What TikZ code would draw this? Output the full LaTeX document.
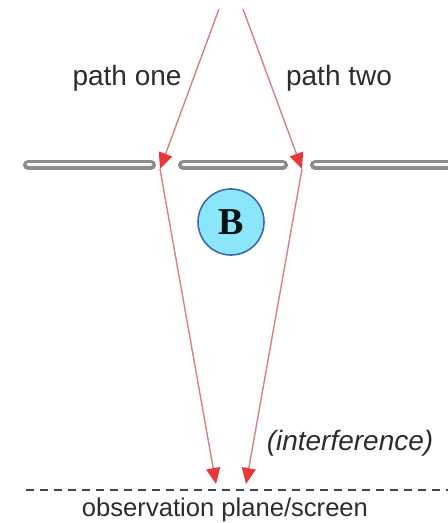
\documentclass[tikz,border=0pt]{standalone}
\usepackage{fontspec}
\setmainfont{Liberation Sans}
\newfontfamily\atomfont{Liberation Serif}
\usepackage{xcolor}
\usepackage{tikz}
\usetikzlibrary{arrows.meta}
\definecolor{raypink}{RGB}{214,128,134}
\definecolor{tipred}{RGB}{232,56,60}
\definecolor{wallgrey}{RGB}{140,140,140}
\definecolor{atomfill}{RGB}{140,230,250}
\definecolor{atomline}{RGB}{60,105,175}
\definecolor{labelgrey}{RGB}{45,45,45}
\definecolor{screengrey}{RGB}{70,70,70}

\begin{document}
\begin{tikzpicture}[x=0.5pt, y=-0.5pt,
    ray/.style={draw=raypink, line width=0.7pt,
                -{Triangle[length=8pt, width=7pt, color=tipred]}},
    barrier/.style={draw=wallgrey, line width=1.8pt, line cap=round,
                    double=white!92!gray, double distance=1.5pt},
    label/.style={font=\fontsize{14}{16}\selectfont, text=labelgrey},
    atom/.style={circle, draw=atomline, fill=atomfill, line width=0.8pt,
                 minimum size=33pt, inner sep=0pt,
                 font=\atomfont\bfseries\fontsize{19}{20}\selectfont, text=black!85!teal}
  ]
  \useasboundingbox (0,0) rectangle (448,523);

  % --- source and slits ---
  \coordinate (src1) at (219,9);
  \coordinate (src2) at (243,9);
  \coordinate (slit1) at (160,169);
  \coordinate (slit2) at (302,169);
  \coordinate (hit1) at (216,484);
  \coordinate (hit2) at (246,484);

  % barrier with two openings
  \draw[barrier] (28,165) -- (151,165);
  \draw[barrier] (183,165) -- (283,165);
  \draw[barrier] (315,165) -- (452,165);

  % the two paths
  \draw[ray] (src1) -- (slit1);
  \draw[ray] (src2) -- (slit2);
  \draw[ray] (slit1) -- (hit1);
  \draw[ray] (slit2) -- (hit2);

  \node[label] (one) at (127,78) {path one};
  \node[label] (two) at (339,78) {path two};

  % which-path atom
  \node[atom] (B) at (231,222) {B};

  % --- observation plane ---
  \draw[draw=screengrey, line width=0.7pt, dash pattern=on 4pt off 3pt] (26,490) -- (448,490);
  \node[label, font=\itshape\fontsize{14}{16}\selectfont] (intf) at (350,443) {(interference)};
  \node[label, font=\fontsize{12.8}{15}\selectfont] (screen) at (225,510) {observation plane/screen};
\end{tikzpicture}
\end{document}
